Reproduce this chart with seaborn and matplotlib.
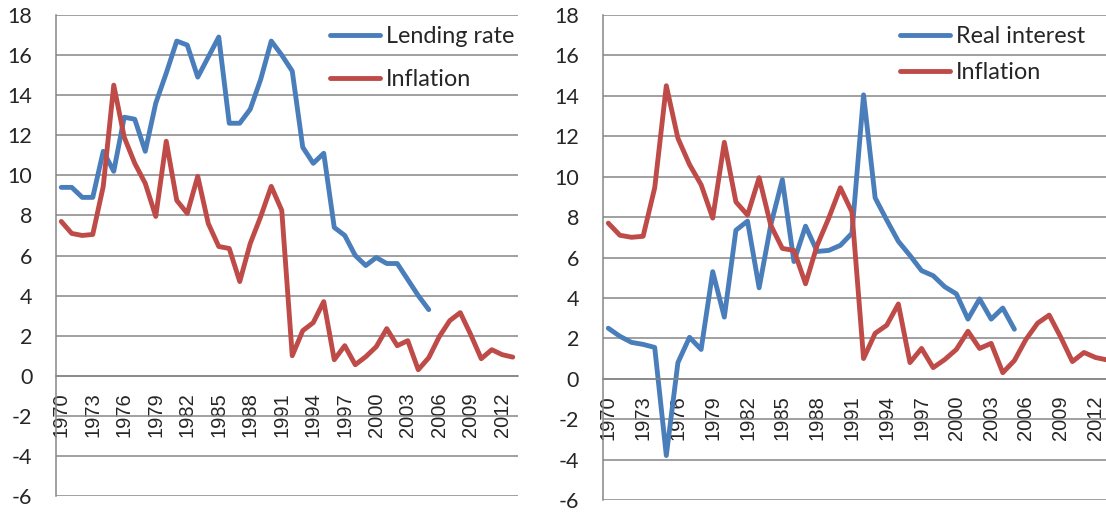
import numpy as np
import pandas as pd
import matplotlib
matplotlib.use("Agg")
import matplotlib.pyplot as plt
import seaborn as sns
from matplotlib.ticker import FixedLocator, FixedFormatter, NullFormatter

# data
years = list(range(1970, 2014))
lending_rate = [9.4, 9.4, 8.9, 8.9, 11.2, 10.2, 12.9, 12.8, 11.2, 13.6,
                15.1, 16.7, 16.5, 14.9, 15.9, 16.9, 12.6, 12.6, 13.3, 14.8,
                16.7, 16.0, 15.2, 11.4, 10.6, 11.1, 7.4, 7.0, 6.0, 5.5,
                5.9, 5.6, 5.6, 4.8, 4.0, 3.3]
real_interest = [2.5, 2.1, 1.8, 1.7, 1.55, -3.8, 0.8, 2.05, 1.45, 5.3,
                 3.05, 7.35, 7.8, 4.5, 7.6, 9.85, 5.8, 7.55, 6.3, 6.35,
                 6.6, 7.2, 14.05, 8.95, 7.85, 6.8, 6.1, 5.35, 5.1, 4.55,
                 4.2, 2.95, 3.95, 2.95, 3.5, 2.45]
inflation = [7.7, 7.1, 7.0, 7.05, 9.45, 14.5, 11.9, 10.6, 9.6, 7.95,
             11.7, 8.75, 8.1, 9.95, 7.6, 6.45, 6.35, 4.7, 6.6, 7.95,
             9.45, 8.25, 1.0, 2.25, 2.65, 3.7, 0.8, 1.5, 0.55, 0.95,
             1.45, 2.35, 1.5, 1.75, 0.3, 0.9, 1.95, 2.75, 3.15, 2.05,
             0.85, 1.3, 1.05, 0.93]
label_years = list(range(1970, 2013, 3))
y_ticks = list(range(-6, 19, 2))

blue = "#4A7EBB"
red = "#BE4B48"
gray = "#868686"

sns.set_style("white")
plt.rcParams["font.family"] = ["Lato", "DejaVu Sans"]
plt.rcParams["axes.unicode_minus"] = False

W, H = 1106, 512
fig = plt.figure(figsize=(W / 100, H / 100), dpi=100)


def px_axes(x0, x1, ytop, ybot):
    return fig.add_axes([x0 / W, 1 - ybot / H, (x1 - x0) / W, (ybot - ytop) / H])


def draw(ax, name, vals, leg_xy, spacing):
    df = pd.DataFrame({
        "year": years[:len(vals)] + years,
        "value": vals + inflation,
        "series": [name] * len(vals) + ["Inflation"] * len(inflation),
    })
    sns.lineplot(data=df, x="year", y="value", hue="series",
                 palette=[blue, red], linewidth=3.5, ax=ax, legend=False)
    for ln in ax.lines:
        ln.set_solid_joinstyle("round")

    ax.set_xlim(1969.5, 2013.5)
    ax.set_ylim(-6, 18)
    ax.set_yticks(y_ticks)
    ax.yaxis.grid(True, color=gray, lw=1.1)
    ax.set_axisbelow(True)
    ax.set_xlabel("")
    ax.set_ylabel("")

    for s in ["top", "right"]:
        ax.spines[s].set_visible(False)
    ax.spines["left"].set_color(gray)
    ax.spines["left"].set_linewidth(1.1)
    ax.spines["bottom"].set_position(("data", 0))
    ax.spines["bottom"].set_color(gray)
    ax.spines["bottom"].set_linewidth(1.1)

    # labels every 3 years, small ticks between every category
    ax.xaxis.set_major_locator(FixedLocator(label_years))
    ax.xaxis.set_major_formatter(FixedFormatter([str(y) for y in label_years]))
    ax.xaxis.set_minor_locator(FixedLocator(np.arange(1969.5, 2014, 1)))
    ax.xaxis.set_minor_formatter(NullFormatter())
    ax.tick_params(axis="x", which="major", length=0, pad=12,
                   labelsize=14.5, labelrotation=90,
                   labelfontfamily="Liberation Sans")
    ax.tick_params(axis="x", which="minor", length=5, color=gray, width=1.1,
                   direction="out")
    ax.tick_params(axis="y", length=6, color=gray, width=1.1, pad=11,
                   labelsize=15.5)

    ax.legend(ax.lines, [name, "Inflation"], loc="upper left",
              bbox_to_anchor=(leg_xy[0] / W, 1 - leg_xy[1] / H),
              bbox_transform=fig.transFigure, frameon=False, fontsize=16.8,
              handlelength=2.15, handletextpad=0.25, labelspacing=spacing,
              borderpad=0, borderaxespad=0)


ax1 = px_axes(56, 518, 15, 496)
draw(ax1, "Lending rate", lending_rate, (330, 26), 0.94)

# right panel runs a little past the image edge, as in the reference
ax2 = px_axes(602.5, 1113, 15, 500)
draw(ax2, "Real interest", real_interest, (900, 26), 0.64)

fig.savefig("out.png", dpi=100)
